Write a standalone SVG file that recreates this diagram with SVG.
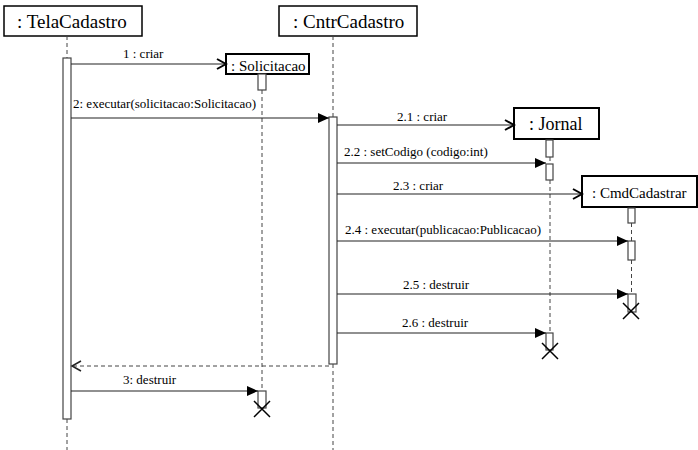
<svg xmlns="http://www.w3.org/2000/svg" width="698" height="450" viewBox="0 0 698 450">
<style>
text{font-family:'Liberation Serif','Times New Roman',serif;fill:#000}
.obj{fill:#fff;stroke:#000;stroke-width:1.5}
.obj2{fill:#fff;stroke:#000;stroke-width:2}
.big{font-size:19px}
.mid{font-size:15px}
.jn{font-size:18px}
.lbl{font-size:13px}
.life{stroke:#444;stroke-width:1;stroke-dasharray:4,3;fill:none}
.bar{fill:#fff;stroke:#444;stroke-width:1.2}
.msg{stroke:#222;stroke-width:1.2;fill:none}
.ret{stroke:#444;stroke-width:1;stroke-dasharray:4,3;fill:none}
.x{stroke:#000;stroke-width:1.5;fill:none}
</style>
<defs>
<marker id="fill" markerWidth="12" markerHeight="10" refX="11" refY="5" orient="auto" markerUnits="userSpaceOnUse">
<path d="M0,0 L11,5 L0,10 Z" fill="#000"/>
</marker>
<marker id="open" markerWidth="12" markerHeight="12" refX="10" refY="6" orient="auto" markerUnits="userSpaceOnUse">
<path d="M1,1 L10,6 L1,11" fill="none" stroke="#000" stroke-width="2"/>
</marker>
<marker id="openthin" markerWidth="12" markerHeight="12" refX="10" refY="6" orient="auto" markerUnits="userSpaceOnUse">
<path d="M1,1 L10,6 L1,11" fill="none" stroke="#222" stroke-width="1.5"/>
</marker>
</defs>

<g id="TelaCadastro">
<rect class="obj" x="4" y="6" width="138" height="30"/>
<text class="big" x="17" y="28">: TelaCadastro</text>
<line class="life" x1="67" y1="36" x2="67" y2="58"/>
<rect class="bar" x="63" y="58" width="8" height="361"/>
<line class="life" x1="67" y1="419" x2="67" y2="450"/>
</g>

<g id="CntrCadastro">
<rect class="obj" x="279" y="6" width="138" height="30"/>
<text class="big" x="293" y="28">: CntrCadastro</text>
<line class="life" x1="333" y1="36" x2="333" y2="117"/>
<rect class="bar" x="329" y="117" width="8" height="247"/>
<line class="life" x1="333" y1="364" x2="333" y2="450"/>
</g>

<g id="Solicitacao">
<rect class="obj2" x="226" y="54" width="83" height="20"/>
<text class="mid" x="231" y="71">: Solicitacao</text>
<rect class="bar" x="258" y="74" width="8" height="16"/>
<line class="life" x1="262" y1="90" x2="262" y2="391"/>
<rect class="bar" x="258" y="391" width="8" height="17"/>
<path class="x" d="M254,401 L270,417 M270,401 L254,417"/>
</g>

<g id="Jornal">
<rect class="obj2" x="514" y="108" width="85" height="31"/>
<text class="jn" x="529" y="130">: Jornal</text>
<rect class="bar" x="546" y="140" width="7" height="17"/>
<line class="life" x1="550" y1="157" x2="550" y2="164"/>
<rect class="bar" x="546" y="164" width="7" height="16"/>
<line class="life" x1="550" y1="180" x2="550" y2="333"/>
<rect class="bar" x="546" y="333" width="7" height="17"/>
<path class="x" d="M542,343 L558,359 M558,343 L542,359"/>
</g>

<g id="CmdCadastrar">
<rect class="obj2" x="582" y="176" width="115" height="31"/>
<text class="mid" x="592" y="198">: CmdCadastrar</text>
<rect class="bar" x="628" y="208" width="7" height="15"/>
<line class="life" x1="631.5" y1="223" x2="631.5" y2="241"/>
<rect class="bar" x="628" y="241" width="7" height="19"/>
<line class="life" x1="631.5" y1="260" x2="631.5" y2="294"/>
<rect class="bar" x="628" y="294" width="8" height="18"/>
<path class="x" d="M623,303 L639,319 M639,303 L623,319"/>
</g>

<g id="connectors">
<line class="msg" x1="71" y1="64" x2="226" y2="64" marker-end="url(#open)"/>
<text class="lbl" x="123" y="58">1 : criar</text>

<line class="msg" x1="71" y1="118" x2="329" y2="118" marker-end="url(#fill)"/>
<text class="lbl" x="73" y="108">2: executar(solicitacao:Solicitacao)</text>

<line class="msg" x1="337" y1="125" x2="514" y2="125" marker-end="url(#open)"/>
<text class="lbl" x="397" y="121">2.1 : criar</text>

<line class="msg" x1="337" y1="163" x2="546" y2="163" marker-end="url(#fill)"/>
<text class="lbl" x="344" y="156">2.2 : setCodigo (codigo:int)</text>

<line class="msg" x1="337" y1="194" x2="582" y2="194" marker-end="url(#open)"/>
<text class="lbl" x="393" y="190">2.3 : criar</text>

<line class="msg" x1="337" y1="241" x2="628" y2="241" marker-end="url(#fill)"/>
<text class="lbl" x="345" y="234">2.4 : executar(publicacao:Publicacao)</text>

<line class="msg" x1="337" y1="294" x2="628" y2="294" marker-end="url(#fill)"/>
<text class="lbl" x="403" y="289">2.5 : destruir</text>

<line class="msg" x1="337" y1="333" x2="546" y2="333" marker-end="url(#fill)"/>
<text class="lbl" x="402" y="327">2.6 : destruir</text>

<line class="ret" x1="329" y1="366" x2="72" y2="366" marker-end="url(#openthin)"/>

<line class="msg" x1="71" y1="391" x2="258" y2="391" marker-end="url(#fill)"/>
<text class="lbl" x="123" y="384">3: destruir</text>
</g>
</svg>
